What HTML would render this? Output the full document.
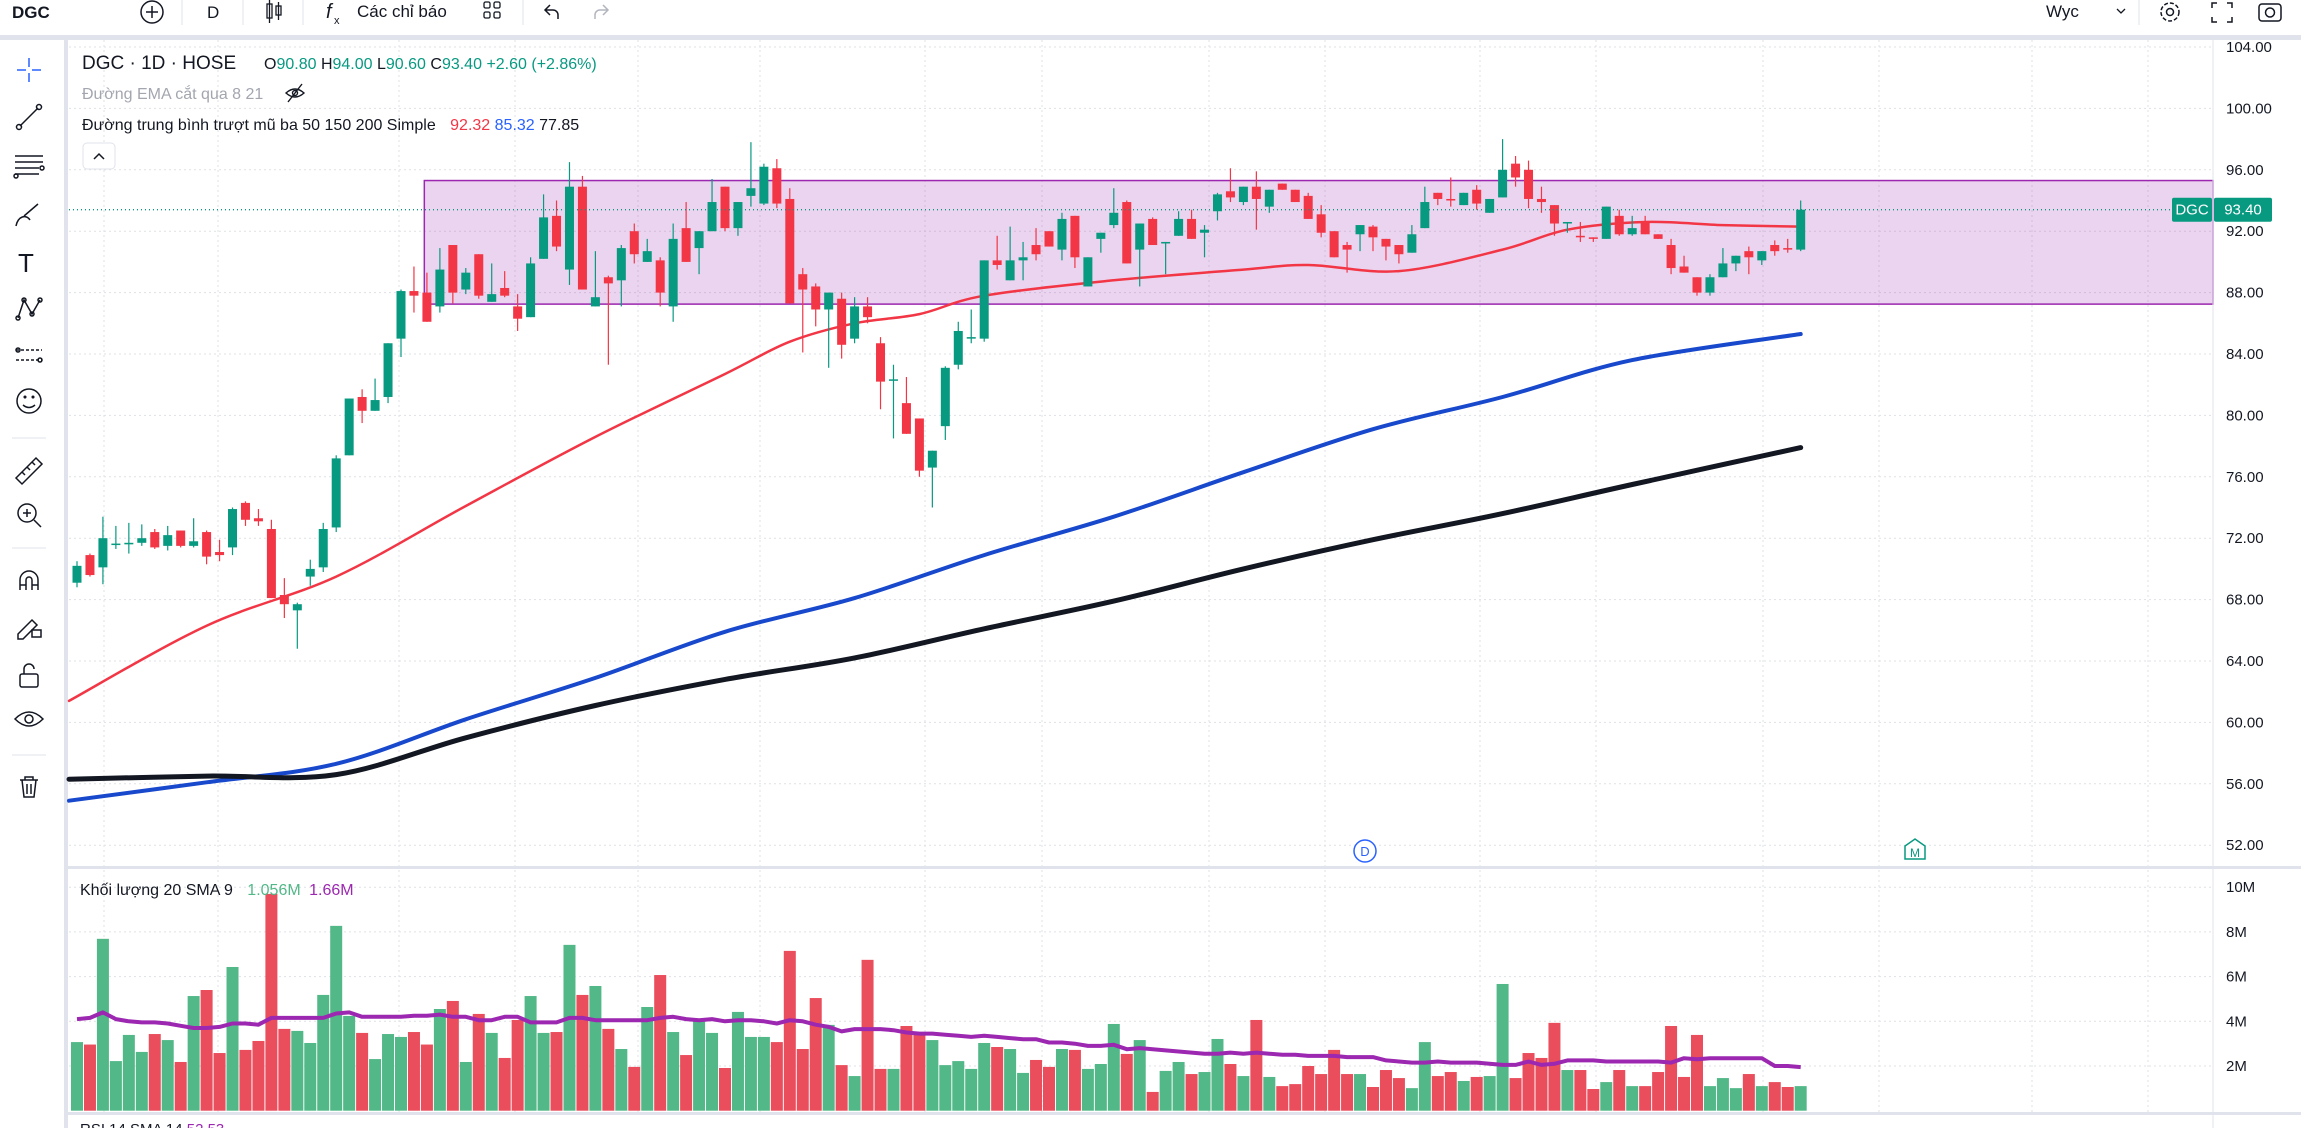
<!DOCTYPE html>
<html><head><meta charset="utf-8">
<style>
html,body{margin:0;padding:0;background:#fff;width:2301px;height:1128px;overflow:hidden;font-family:"Liberation Sans","Noto Sans CJK SC",sans-serif;}
svg text{font-family:"Liberation Sans","Noto Sans CJK SC",sans-serif;}
</style></head>
<body>
<svg id="chart" width="2301" height="1128" viewBox="0 0 2301 1128" xmlns="http://www.w3.org/2000/svg">
  <g>
    <rect x="0" y="0" width="2301" height="35" fill="#fff"/>
    <rect x="0" y="35" width="2301" height="5" fill="#e0e3eb"/>
    <text x="12" y="18" font-size="17" font-weight="bold" fill="#131722">DGC</text>
    <g><circle cx="152" cy="12" r="11" fill="none" stroke="#131722" stroke-width="1.5"/><path d="M146 12h12M152 6v12" stroke="#131722" stroke-width="1.5"/></g>
    <line x1="182" y1="0" x2="182" y2="25" stroke="#e0e3eb"/>
    <text x="207" y="18" font-size="17" fill="#131722">D</text>
    <line x1="243" y1="0" x2="243" y2="25" stroke="#e0e3eb"/>
    <g><rect x="267" y="4" width="5" height="14" fill="none" stroke="#131722" stroke-width="1.3"/><line x1="269.5" y1="0" x2="269.5" y2="23" stroke="#131722" stroke-width="1.3"/><rect x="276" y="6" width="5" height="9" fill="none" stroke="#131722" stroke-width="1.3"/><line x1="278.5" y1="2" x2="278.5" y2="20" stroke="#131722" stroke-width="1.3"/></g>
    <line x1="303" y1="0" x2="303" y2="25" stroke="#e0e3eb"/>
    <g><text x="326" y="18" font-size="20" font-style="italic" fill="#131722">f</text><text x="334" y="24" font-size="11" fill="#131722">x</text><text x="357" y="17" font-size="17" fill="#131722">Các chỉ báo</text></g>
    <g fill="none" stroke="#131722" stroke-width="1.3"><rect x="484" y="2" width="6" height="6" rx="1.5"/><rect x="494" y="2" width="6" height="6" rx="1.5"/><rect x="484" y="12" width="6" height="6" rx="1.5"/><rect x="494" y="12" width="6" height="6" rx="1.5"/></g>
    <line x1="523" y1="0" x2="523" y2="25" stroke="#e0e3eb"/>
    <path d="M550 5l-5 5 5 5M545 10h8a5 5 0 0 1 5 5v4" fill="none" stroke="#131722" stroke-width="1.5"/>
    <path d="M603 5l5 5-5 5M608 10h-8a5 5 0 0 0-5 5v4" fill="none" stroke="#b2b5be" stroke-width="1.5"/>
    <text x="2046" y="17" font-size="17" fill="#131722">Wyc</text>
    <path d="M2117 9l4 4 4-4" fill="none" stroke="#131722" stroke-width="1.3"/>
    <line x1="2139" y1="0" x2="2139" y2="25" stroke="#e0e3eb"/>
    <g><circle cx="2170" cy="12" r="9" fill="none" stroke="#131722" stroke-width="1.5" stroke-dasharray="4 2"/><circle cx="2170" cy="12" r="3.5" fill="none" stroke="#131722" stroke-width="1.5"/></g>
    <path d="M2212 8V3h5M2227 3h5v5M2232 17v5h-5M2217 22h-5v-5" fill="none" stroke="#131722" stroke-width="1.5"/>
    <g><rect x="2259" y="4" width="22" height="17" rx="3" fill="none" stroke="#131722" stroke-width="1.5"/><circle cx="2270" cy="12.5" r="4.5" fill="none" stroke="#131722" stroke-width="1.5"/></g>
  </g>

  <g>
    <rect x="0" y="40" width="66" height="1088" fill="#fff"/>
    <rect x="64" y="40" width="4" height="1088" fill="#e0e3eb"/>
    <g stroke="#2962ff" stroke-width="1.5"><path d="M29 58v9M29 73v9M17 70h9M32 70h9"/></g>
    <g stroke="#131722" stroke-width="1.5" fill="none"><line x1="20" y1="126" x2="38" y2="108"/><circle cx="19" cy="127" r="2.5"/><circle cx="39" cy="107" r="2.5"/></g>
    <g stroke="#131722" stroke-width="1.5" fill="none"><path d="M15 156h28M15 162h28M15 168h24M15 174h24"/><circle cx="42" cy="168" r="2"/><circle cx="16" cy="176" r="2"/></g>
    <g stroke="#131722" stroke-width="1.5" fill="none"><path d="M16 226c2-10 10-12 14-6M24 216l14-12"/></g>
    <text x="18" y="272" font-size="26" fill="#131722">T</text>
    <g stroke="#131722" stroke-width="1.5" fill="none"><path d="M18 318l6-18 8 14 8-14"/><circle cx="18" cy="318" r="2"/><circle cx="24" cy="300" r="2"/><circle cx="32" cy="314" r="2"/><circle cx="40" cy="300" r="2"/></g>
    <g stroke="#131722" stroke-width="1.5" fill="none"><path d="M16 350h26M16 360h26" stroke-dasharray="3 2"/><circle cx="18" cy="350" r="2"/><circle cx="40" cy="360" r="2"/></g>
    <g stroke="#131722" stroke-width="1.5" fill="none"><circle cx="29" cy="401" r="12"/><path d="M23 405q6 5 12 0"/><circle cx="25" cy="397" r="0.8"/><circle cx="33" cy="397" r="0.8"/></g>
    <line x1="12" y1="438" x2="46" y2="438" stroke="#e0e3eb"/>
    <g stroke="#131722" stroke-width="1.5" fill="none"><path d="M16 478l20-20 6 6-20 20z"/><path d="M22 472l3 3M27 467l3 3M32 462l3 3"/></g>
    <g stroke="#131722" stroke-width="1.5" fill="none"><circle cx="27" cy="513" r="9"/><path d="M34 520l7 7M23 513h8M27 509v8"/></g>
    <line x1="12" y1="548" x2="46" y2="548" stroke="#e0e3eb"/>
    <g stroke="#131722" stroke-width="1.5" fill="none"><path d="M20 590v-10a9 9 0 0 1 18 0v10M20 585h6M32 585h6"/><path d="M26 590v-10a3 3 0 0 1 6 0v10"/></g>
    <g stroke="#131722" stroke-width="1.5" fill="none"><path d="M18 634l14-14 5 5-14 14h-5z"/><rect x="32" y="630" width="9" height="7"/></g>
    <g stroke="#131722" stroke-width="1.5" fill="none"><rect x="20" y="674" width="18" height="13" rx="2"/><path d="M24 674v-5a5 5 0 0 1 10 0"/></g>
    <g stroke="#131722" stroke-width="1.5" fill="none"><path d="M15 719q14-14 28 0q-14 14-28 0z"/><circle cx="29" cy="719" r="4"/></g>
    <line x1="12" y1="755" x2="46" y2="755" stroke="#e0e3eb"/>
    <g stroke="#131722" stroke-width="1.5" fill="none"><path d="M20 780h18M25 780v-3h8v3M22 780l2 17h10l2-17M27 784v10M31 784v10"/></g>
  </g>

  <g id="gridG"></g>
  <g id="boxG"></g>
  <g id="maG"></g>
  <g id="candleG"></g>
  <g id="volG"></g>
  <g id="axisG"></g>

  <rect x="68" y="866" width="2233" height="3" fill="#e0e3eb"/>
  <rect x="68" y="1112" width="2233" height="3" fill="#e0e3eb"/>
  <text x="80" y="1134" font-size="15" fill="#131722">RSI 14 SMA 14 <tspan fill="#9c27b0">52.53</tspan></text>

  <g>
    <text x="82" y="69" font-size="19" fill="#131722">DGC · 1D · HOSE</text>
    <text x="264" y="69" font-size="16" fill="#131722">O<tspan fill="#089981">90.80</tspan> H<tspan fill="#089981">94.00</tspan> L<tspan fill="#089981">90.60</tspan> C<tspan fill="#089981">93.40</tspan> <tspan fill="#089981">+2.60 (+2.86%)</tspan></text>
    <text x="82" y="99" font-size="16" fill="#a3a6af">Đường EMA cắt qua 8 21</text>
    <g stroke="#131722" stroke-width="1.4" fill="none"><path d="M286 93q9-8 18 0q-9 8-18 0z"/><circle cx="295" cy="93" r="2.5"/><line x1="288" y1="102" x2="302" y2="84"/></g>
    <text x="82" y="130" font-size="16" fill="#131722">Đường trung bình trượt mũ ba 50 150 200 Simple <tspan dx="10" fill="#f23645">92.32</tspan> <tspan fill="#2962ff">85.32</tspan> <tspan fill="#131722">77.85</tspan></text>
    <g><rect x="83" y="143" width="32" height="26" rx="4" fill="#fff" stroke="#e0e3eb"/><path d="M94 159l5-5 5 5" fill="none" stroke="#131722" stroke-width="1.5"/></g>
  </g>
  <g>
    <text x="80" y="895" font-size="16" fill="#131722">Khối lượng 20 SMA 9 <tspan dx="10" fill="#52b888">1.056M</tspan> <tspan dx="4" fill="#9c27b0">1.66M</tspan></text>
  </g>

  <g><circle cx="1365" cy="851" r="11" fill="#fff" stroke="#2962ff" stroke-width="1.5"/><text x="1365" y="856" font-size="13" text-anchor="middle" fill="#2962ff">D</text></g>
  <g><path d="M1905 846l10-7 10 7v13h-20z" fill="#fff" stroke="#089981" stroke-width="1.5"/><text x="1915" y="857" font-size="12" text-anchor="middle" fill="#089981">M</text></g>
</svg>
<script>
var opens=[69.1,70.9,70.1,71.6,71.6,71.7,72.4,71.5,72.5,71.5,72.4,71.1,71.4,74.3,73.3,72.6,68.3,67.3,69.5,70.1,72.7,77.4,81.2,80.3,81.2,85.0,88.1,88.0,87.1,91.1,88.2,90.5,87.4,88.3,87.1,86.4,90.2,93.0,89.5,94.9,87.1,89.0,88.8,92.0,90.0,90.1,87.1,92.2,90.9,92.0,94.9,92.2,94.3,93.8,96.1,94.1,89.2,88.4,86.9,87.6,85.0,87.1,84.7,82.3,80.8,79.8,76.6,79.3,83.3,85.0,85.0,90.1,88.8,90.1,91.1,92.0,90.8,93.0,88.4,91.5,92.4,93.9,90.8,92.8,91.2,91.7,92.8,91.9,93.3,94.6,93.9,94.9,93.6,95.1,94.7,94.3,93.1,92.0,91.1,91.8,92.3,91.5,91.1,90.6,92.2,94.5,94.1,93.7,94.7,93.2,94.2,96.4,96.0,94.1,93.7,92.5,91.7,91.6,91.5,93.0,91.8,92.6,91.8,91.1,89.7,89.0,88.0,89.0,89.9,90.7,90.1,91.1,90.9,90.8];
var highs=[70.5,71.0,73.4,72.8,73.0,72.9,72.6,72.8,72.5,73.3,72.5,71.9,74.0,74.4,73.9,73.2,69.4,67.8,70.6,73.0,77.4,81.1,81.7,82.4,84.7,88.2,89.7,89.3,90.9,91.1,89.6,90.5,89.9,89.4,87.9,90.3,94.4,94.0,96.5,95.6,90.7,89.1,91.1,92.5,91.5,90.3,92.5,93.9,92.0,95.4,94.9,93.9,97.8,96.4,96.7,94.8,89.6,88.6,88.0,88.0,87.7,87.7,85.1,83.3,82.5,79.8,77.7,83.2,86.1,86.9,90.1,91.7,92.3,91.3,92.2,92.0,93.2,93.0,90.3,91.9,94.8,94.0,92.5,92.9,91.3,93.3,93.4,92.4,94.5,96.1,94.9,95.9,94.7,95.1,94.7,94.5,93.7,92.0,91.3,92.4,92.4,91.5,91.1,92.4,94.9,94.5,95.5,94.5,95.0,94.1,98.0,96.9,96.6,94.9,93.7,92.6,92.6,91.6,93.6,93.4,93.0,93.0,91.8,91.5,90.4,89.0,89.2,90.9,90.4,91.0,90.7,91.4,91.5,94.0];
var lows=[68.8,69.5,69.0,71.3,71.0,71.5,71.3,71.2,71.4,71.4,70.3,70.5,70.9,72.8,72.8,68.1,66.8,64.8,68.9,69.8,72.4,77.4,79.5,80.3,80.8,83.8,86.7,86.1,86.7,87.3,87.9,87.6,87.4,87.7,85.5,86.4,90.2,90.7,88.5,88.2,87.1,83.3,87.1,89.9,90.0,87.1,86.1,90.0,89.2,92.0,92.0,91.7,93.6,93.7,93.5,87.3,84.1,85.8,83.1,83.7,84.7,86.0,80.4,78.5,78.8,76.0,74.0,78.4,83.0,84.7,84.8,89.5,88.8,88.8,90.1,91.0,90.1,89.6,88.4,90.6,92.2,89.9,88.4,91.1,89.2,91.7,91.5,90.3,92.7,93.9,93.7,92.1,93.2,94.7,93.9,92.8,91.6,90.3,89.3,90.7,90.7,90.1,89.9,90.6,92.2,93.7,93.6,93.7,93.4,93.2,94.2,94.9,93.5,93.2,91.7,91.9,91.3,91.3,91.5,91.7,91.7,91.8,91.5,89.2,89.3,87.8,87.8,89.0,89.4,89.2,89.8,90.4,90.6,90.7];
var closes=[70.2,69.6,72.0,71.65,71.7,72.0,71.4,72.2,71.5,71.8,70.8,70.9,73.9,73.2,73.1,68.1,67.7,67.7,70.0,72.6,77.2,81.1,80.3,81.0,84.7,88.1,87.8,86.1,89.5,88.0,89.3,87.8,87.9,87.8,86.3,89.9,92.9,91.0,94.9,88.2,87.7,88.6,90.9,90.5,90.7,88.0,91.5,90.0,92.0,93.9,92.2,93.9,94.8,96.2,93.8,87.3,88.2,86.9,88.0,84.6,87.1,86.4,82.2,82.35,78.8,76.4,77.7,83.1,85.5,85.1,90.1,89.8,90.1,90.3,90.5,91.0,92.8,90.3,90.3,91.9,93.2,89.9,92.5,91.1,91.3,92.8,91.5,92.1,94.4,94.2,94.9,94.1,94.7,94.7,93.9,92.8,91.9,90.3,90.8,92.4,91.6,91.0,90.5,91.8,93.9,94.1,94.0,94.5,93.8,94.1,96.0,95.5,94.1,93.9,92.5,92.6,91.6,91.5,93.6,91.8,92.2,91.8,91.5,89.6,89.3,88.0,89.0,89.9,90.4,90.3,90.7,90.7,90.8,93.4];
var volumes=[3.07,2.96,7.69,2.22,3.39,2.63,3.43,3.16,2.18,5.13,5.4,2.58,6.43,2.72,3.12,9.7,3.66,3.57,3.03,5.18,8.27,4.24,3.48,2.31,3.43,3.3,3.52,2.96,4.55,4.91,2.18,4.33,3.48,2.36,4.06,5.13,3.48,3.52,7.42,5.18,5.58,3.66,2.76,1.96,4.64,6.07,3.52,2.49,4.01,3.48,1.91,4.42,3.3,3.3,3.07,7.15,2.76,5.04,3.84,2.04,1.55,6.75,1.87,1.87,3.79,3.43,3.16,2.04,2.22,1.87,3.03,2.85,2.76,1.69,2.27,1.96,2.76,2.72,1.87,2.09,3.88,2.54,3.16,0.84,1.78,2.18,1.64,1.73,3.21,2.09,1.55,4.06,1.51,1.1,1.19,2.0,1.64,2.72,1.64,1.64,1.06,1.82,1.46,1.01,3.07,1.55,1.73,1.33,1.51,1.55,5.67,1.46,2.58,2.36,3.93,1.82,1.82,0.97,1.28,1.82,1.1,1.1,1.73,3.79,1.51,3.39,1.1,1.46,1.01,1.64,1.1,1.28,1.06,1.1];
var volSma=[4.1,4.15,4.4,4.1,4.0,3.95,3.95,3.9,3.8,3.7,3.7,3.75,3.9,3.9,3.85,4.15,4.15,4.15,4.15,4.15,4.35,4.4,4.2,4.2,4.2,4.2,4.25,4.25,4.3,4.2,4.2,4.05,4.05,4.2,4.2,3.95,3.95,3.95,4.15,4.15,4.05,4.05,4.05,4.05,4.05,4.15,4.2,4.1,4.05,4.1,4.0,4.05,4.05,4.0,3.9,4.05,4.0,3.85,3.75,3.55,3.65,3.65,3.65,3.6,3.5,3.45,3.45,3.4,3.35,3.3,3.35,3.3,3.25,3.2,3.2,3.05,3.05,3.0,2.9,2.9,2.95,2.75,2.8,2.75,2.7,2.65,2.6,2.55,2.55,2.6,2.55,2.6,2.55,2.5,2.5,2.45,2.45,2.45,2.4,2.4,2.4,2.25,2.2,2.15,2.15,2.2,2.15,2.15,2.15,2.1,2.05,2.05,2.2,2.05,2.1,2.25,2.25,2.25,2.2,2.2,2.2,2.2,2.2,2.15,2.35,2.3,2.35,2.35,2.35,2.35,2.35,2.0,2.0,1.95,1.85];
var emaIdx=[-1,10,20,30,40,50,55,60,65,70,80,90,95,102,110,115,121,127,133];
var emaVals=[61.4,66.3,69.5,74.1,78.6,82.7,84.8,86.0,86.6,87.8,88.8,89.5,89.8,89.4,90.8,92.1,92.6,92.4,92.3];
var smaMidIdx=[-1,10,20,30,40,50,60,70,80,90,100,110,120,133];
var smaMidVals=[54.9,56.1,57.3,60.2,62.9,65.9,68.1,70.9,73.4,76.3,79.1,81.2,83.6,85.3];
var smaLongIdx=[-1,10,20,30,40,50,60,70,80,90,100,110,120,133];
var smaLongVals=[56.3,56.5,56.6,59.0,61.1,62.8,64.2,66.1,67.9,70.0,71.9,73.6,75.5,77.9];
var priceTicks=[104,100,96,92,88,84,80,76,72,68,64,60,56,52];
var volTicks=[10,8,6,4,2];
var volTickLabels=["10M","8M","6M","4M","2M"];
var boxTop=95.3, boxBottom=87.25, boxStartIdx=26.8;
var lastPrice=93.4;

var NS="http://www.w3.org/2000/svg";
var PL=69, PR=2213;
function xi(i){return 77+12.96*i;}
function py(p){return 47+(104-p)*15.35;}
function vy(v){return 1110.7-v*22.35;}
function mk(tag,attrs,parent){var e=document.createElementNS(NS,tag);for(var k in attrs)e.setAttribute(k,attrs[k]);parent.appendChild(e);return e;}
function smoothPath(pts){
  var d='M'+pts[0][0].toFixed(1)+' '+pts[0][1].toFixed(1);
  for(var k=0;k<pts.length-1;k++){
    var p0=pts[Math.max(0,k-1)],p1=pts[k],p2=pts[k+1],p3=pts[Math.min(pts.length-1,k+2)];
    var c1x=p1[0]+(p2[0]-p0[0])/6,c1y=p1[1]+(p2[1]-p0[1])/6;
    var c2x=p2[0]-(p3[0]-p1[0])/6,c2y=p2[1]-(p3[1]-p1[1])/6;
    d+='C'+c1x.toFixed(1)+' '+c1y.toFixed(1)+' '+c2x.toFixed(1)+' '+c2y.toFixed(1)+' '+p2[0].toFixed(1)+' '+p2[1].toFixed(1);
  }
  return d;
}

var grid=document.getElementById('gridG');
var vgrid=[104,218,399,515,638,760,925,1042,1209,1325,1480,1596,1763,1879,2032,2148];
vgrid.forEach(function(x){
  var l=mk('line',{x1:x,y1:40,x2:x,y2:1112,stroke:'#dfe1e6','stroke-dasharray':'2 3'},grid);
  
  
});
var axis=document.getElementById('axisG');
priceTicks.forEach(function(p){
  var y=py(p);
  var l=mk('line',{x1:PL,y1:y,x2:PR,y2:y,stroke:'#dfe1e6','stroke-dasharray':'2 3'},grid);
  
  
  var t=mk('text',{x:2226,y:y+5,'font-size':15,fill:'#131722'},axis);
  t.textContent=p.toFixed(2);
  
  
});
volTicks.forEach(function(v,k){
  var y=vy(v);
  var l=mk('line',{x1:PL,y1:y,x2:PR,y2:y,stroke:'#dfe1e6','stroke-dasharray':'2 3'},grid);
  
  
  var t=mk('text',{x:2226,y:y+5,'font-size':15,fill:'#131722'},axis);
  t.textContent=volTickLabels[k];
  
  
});
var ax=mk('line',{x1:PR,y1:40,x2:PR,y2:1128,stroke:'#e0e3eb','stroke-width':1},axis);



var bg=document.getElementById('boxG');
var bx=xi(boxStartIdx);
var br=mk('rect',{x:bx,y:py(boxTop),width:PR-bx,height:py(boxBottom)-py(boxTop),fill:'rgba(156,39,176,0.2)',stroke:'#9c27b0','stroke-width':1.5},bg);



var mg=document.getElementById('maG');
function line(idx,vals,color,w,name){
  var pts=[];
  for(var k=0;k<idx.length;k++){pts.push([Math.max(PL,xi(idx[k])),py(vals[k])]);}
  var p=mk('path',{d:smoothPath(pts),fill:'none',stroke:color,'stroke-width':w,'stroke-linejoin':'round','stroke-linecap':'round'},mg);
  
  
}
line(emaIdx,emaVals,'#f23645',2.5,'ma50-line');
line(smaMidIdx,smaMidVals,'#1848cc',4,'ma150-line');
line(smaLongIdx,smaLongVals,'#131722',5,'ma200-line');

var lp=mk('line',{x1:PL,y1:py(lastPrice),x2:PR,y2:py(lastPrice),stroke:'#089981','stroke-dasharray':'1 3','stroke-width':1.3},axis);


var lb1=mk('rect',{x:2172,y:py(lastPrice)-12,width:40,height:24,fill:'#089981',rx:2},axis);


var lt1=mk('text',{x:2192,y:py(lastPrice)+5,'font-size':15,fill:'#fff','text-anchor':'middle'},axis);
lt1.textContent='DGC';


var lb2=mk('rect',{x:2214,y:py(lastPrice)-12,width:58,height:24,fill:'#089981',rx:2},axis);


var lt2=mk('text',{x:2243,y:py(lastPrice)+5,'font-size':15,fill:'#fff','text-anchor':'middle'},axis);
lt2.textContent=lastPrice.toFixed(2);



var cg=document.getElementById('candleG');
for(var i=0;i<closes.length;i++){
  var up=closes[i]>=opens[i], col=up?'#089981':'#f23645', x=xi(i);
  var w=mk('line',{x1:x,y1:py(highs[i]),x2:x,y2:py(lows[i]),stroke:col,'stroke-width':1.2},cg);
  
  
  var t=py(Math.max(opens[i],closes[i])), b=py(Math.min(opens[i],closes[i]));
  var r=mk('rect',{x:x-4.5,y:t,width:9,height:Math.max(1.5,b-t),fill:col},cg);
  
  
}
var vg=document.getElementById('volG');
for(var j=0;j<volumes.length;j++){
  var upv=j<closes.length?closes[j]>=opens[j]:true;
  var vr=mk('rect',{x:xi(j)-6,y:vy(volumes[j]),width:12,height:vy(0)-vy(volumes[j]),fill:upv?'#52b888':'#ea4d5c'},vg);
  
  
}
var sd='';
var nS=Math.min(volSma.length,volumes.length);
for(var m=0;m<nS;m++){sd+=(m?'L':'M')+xi(m).toFixed(1)+' '+vy(volSma[m]).toFixed(1);}
var sp=mk('path',{d:sd,fill:'none',stroke:'#9c27b0','stroke-width':4,'stroke-linejoin':'round'},vg);


</script>
</body></html>
